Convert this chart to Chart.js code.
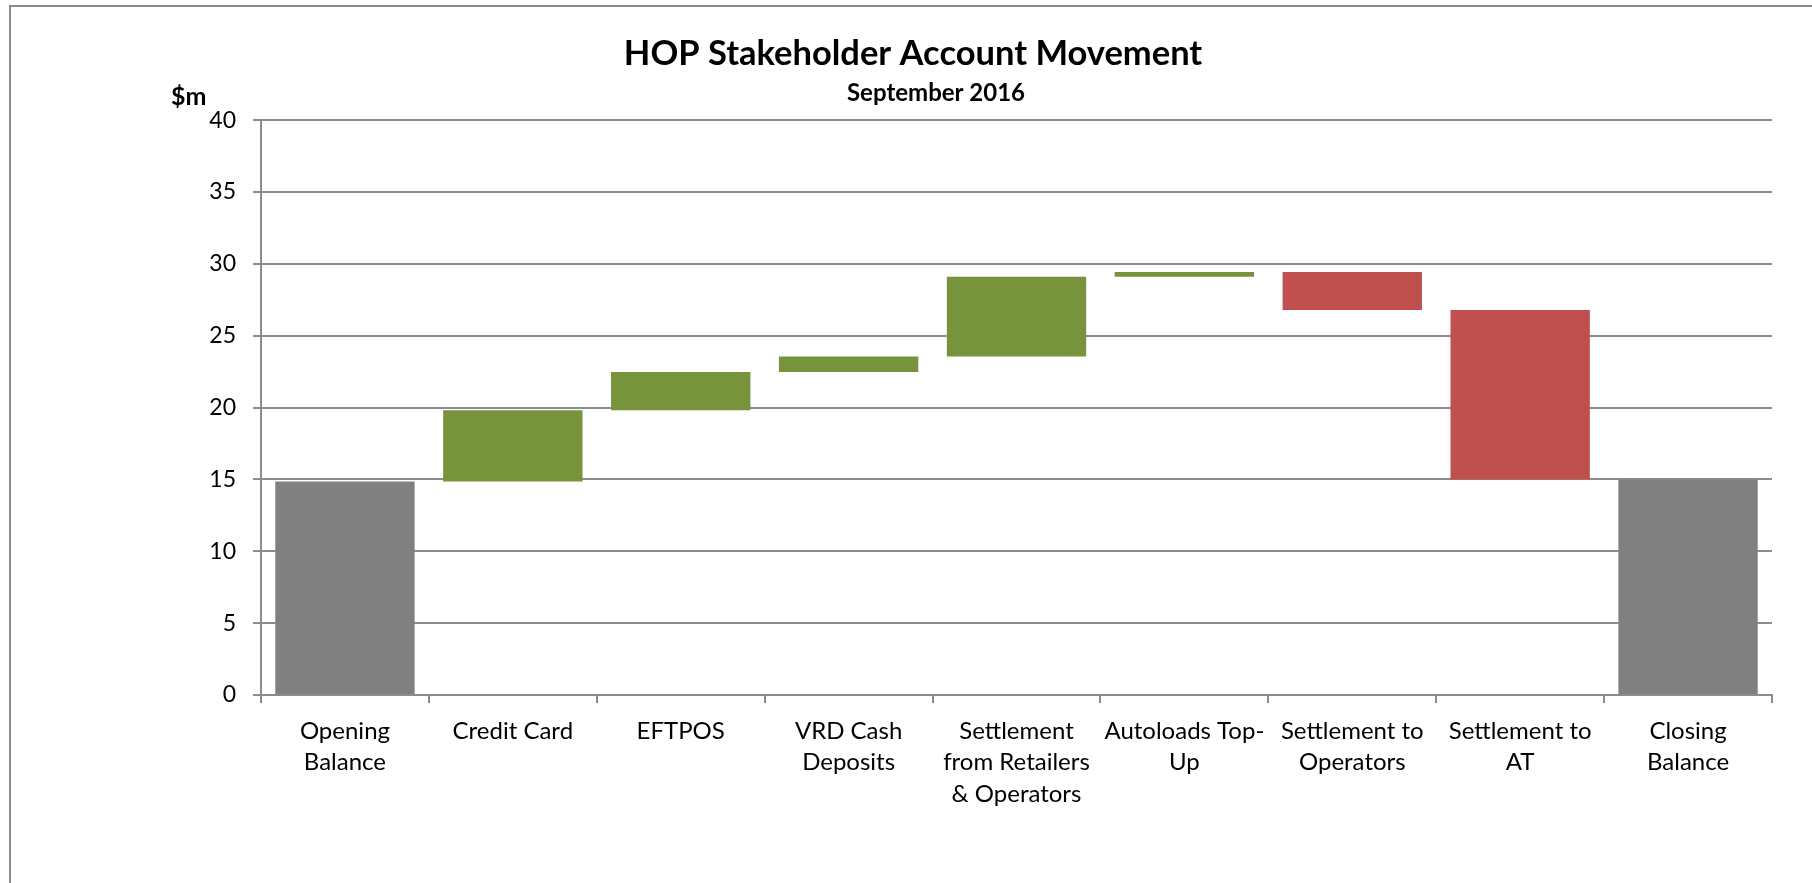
<!DOCTYPE html>
<html>
<head>
<meta charset="utf-8">
<script src="https://cdn.jsdelivr.net/npm/chart.js@4"></script>
<style>
  html, body { margin: 0; padding: 0; background: #fff; overflow: hidden; }
  #wrap { position: relative; width: 1812px; height: 883px; }
  #frame {
    position: absolute; left: 9px; top: 5px; width: 1900px; height: 1000px;
    border-left: 2px solid #8c8c8c; border-top: 2px solid #8c8c8c;
  }
  canvas { position: absolute; left: 0; top: 0; }
</style>
</head>
<body>
<div id="wrap">
  <div id="frame"></div>
  <canvas id="chart" width="1812" height="883"></canvas>
</div>
<script>
const categories = [
  ['Opening', 'Balance'],
  'Credit Card',
  'EFTPOS',
  ['VRD Cash', 'Deposits'],
  ['Settlement', 'from Retailers', '& Operators'],
  ['Autoloads Top-', 'Up'],
  ['Settlement to', 'Operators'],
  ['Settlement to', 'AT'],
  ['Closing', 'Balance'],
];

// $m, bottom and top of each floating bar
const barStart = [0, 14.86, 19.81, 22.48, 23.56, 29.10, 29.44, 26.80, 0];
const barEnd = [14.86, 19.81, 22.48, 23.56, 29.10, 29.44, 26.80, 15.00, 15.00];
const barKind = ['total', 'up', 'up', 'up', 'up', 'up', 'down', 'down', 'total'];

const yTicks = [0, 5, 10, 15, 20, 25, 30, 35, 40];

const kindColors = { total: '#808080', up: '#77933C', down: '#C0504D' };
const gridColor = '#8c8c8c';
const fontFamily = 'Lato, "Open Sans", sans-serif';

// subtitle sits a little right of the title in the original, plus the "$m" unit
const extraText = {
  id: 'extraText',
  afterDraw(chart) {
    const { ctx, chartArea, titleBlock } = chart;
    ctx.save();
    ctx.fillStyle = '#000';
    ctx.textBaseline = 'middle';

    ctx.font = `bold 24px ${fontFamily}`;
    ctx.textAlign = 'center';
    ctx.fillText('September 2016', (titleBlock.left + titleBlock.right) / 2 + 23, chartArea.top - 27);

    ctx.font = `bold 25px ${fontFamily}`;
    ctx.textAlign = 'left';
    ctx.fillText('$m', chartArea.left - 90, chartArea.top - 23);
    ctx.restore();
  },
};

new Chart(document.getElementById('chart'), {
  type: 'bar',
  data: {
    labels: categories,
    datasets: [{
      data: barStart.map((s, i) => [s, barEnd[i]]),
      backgroundColor: barKind.map(k => kindColors[k]),
      borderWidth: 0,
      barPercentage: 0.83,
      categoryPercentage: 1,
    }],
  },
  options: {
    responsive: false,
    animation: false,
    layout: { padding: { left: 54, right: 40, top: 0, bottom: 0 } },
    plugins: {
      legend: { display: false },
      tooltip: { enabled: false },
      title: {
        display: true,
        text: 'HOP Stakeholder Account Movement',
        color: '#000',
        font: { family: fontFamily, size: 34.5, weight: 'bold', lineHeight: 1.2 },
        padding: { top: 33, bottom: 45.8 },
      },
    },
    scales: {
      x: {
        offset: true,
        grid: {
          offset: true,
          drawOnChartArea: false,
          drawTicks: true,
          tickLength: 8,
          color: gridColor,
          lineWidth: 2,
        },
        border: { color: gridColor, width: 2 },
        ticks: {
          color: '#000',
          padding: 12,
          maxRotation: 0,
          autoSkip: false,
          font: { family: fontFamily, size: 24, lineHeight: 1.32 },
        },
        afterFit(scale) { scale.height = 188; },
      },
      y: {
        min: 0,
        max: 40,
        afterBuildTicks(scale) { scale.ticks = yTicks.map(v => ({ value: v })); },
        grid: { color: gridColor, lineWidth: 2, tickLength: 8 },
        border: { color: gridColor, width: 2 },
        ticks: {
          color: '#000',
          padding: 17,
          font: { family: fontFamily, size: 23 },
        },
        afterFit(scale) { scale.width = 207; },
      },
    },
  },
  plugins: [extraText],
});
</script>
</body>
</html>
